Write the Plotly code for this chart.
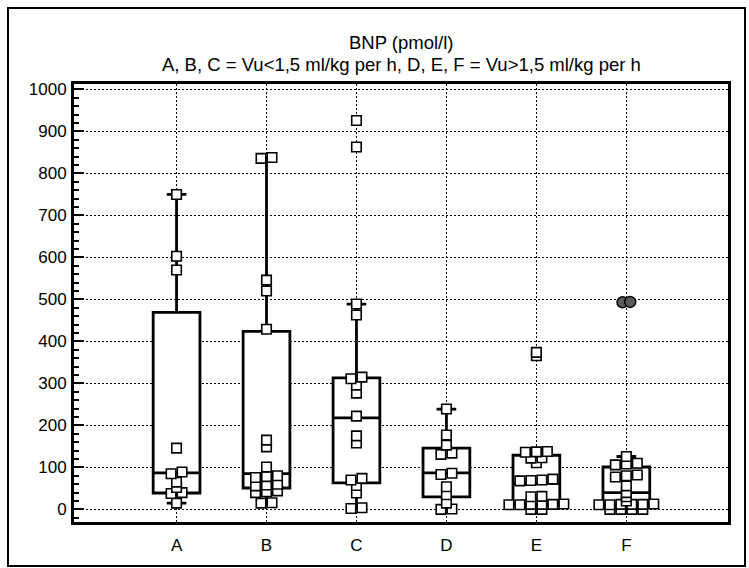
import plotly.graph_objects as go

# ---------------- data ----------------
categories = ["A", "B", "C", "D", "E", "F"]

# box statistics (pmol/l)
lower_whisker = [15, 15, 2, 0, 0, 0]
q1_values     = [39, 51, 63, 30, 12, 10]
medians       = [87, 85, 218, 87, 62, 40]
q3_values     = [469, 424, 313, 146, 129, 101]
upper_whisker = [750, 837, 489, 239, 138, 126]

# individual observations (squares)
values_A = [15, 38, 40, 52, 65, 85, 89, 146, 570, 603, 750]
values_B = [15, 16, 40, 42, 44, 56, 58, 60, 76, 78, 80, 101, 149, 165, 429, 520, 546, 836, 838]
values_C = [2, 4, 39, 57, 70, 74, 158, 175, 222, 277, 296, 311, 315, 463, 489, 863, 926]
values_D = [0, 1, 15, 35, 54, 83, 86, 131, 134, 153, 177, 239]
values_E = [0, 0, 11, 11, 12, 12, 12, 13, 30, 31, 68, 69, 70, 72, 111, 122, 123, 136, 137, 138, 366, 374]
values_F = [0, 0, 0, 0, 11, 11, 12, 12, 12, 13, 20, 30, 40, 56, 77, 80, 82, 106, 108, 110, 126]
group_values = [values_A, values_B, values_C, values_D, values_E, values_F]

# far-out values (filled circles)
far_out_F = [493, 494]

y_tick_values = list(range(0, 1001, 100))


def dodge(vals, gap=8, step=0.122):
    """Place near-equal values side by side (deterministic)."""
    vals = sorted(vals)
    rows = []
    for v in vals:
        if rows and v - rows[-1][0] < gap:
            rows[-1].append(v)
        else:
            rows.append([v])
    xs, ys = [], []
    for row in rows:
        k = len(row)
        for i, v in enumerate(row):
            xs.append((i - (k - 1) / 2) * step)
            ys.append(v)
    return xs, ys


fig = go.Figure()

fig.add_trace(go.Box(
    x=list(range(len(categories))),
    q1=q1_values, median=medians, q3=q3_values,
    lowerfence=lower_whisker, upperfence=upper_whisker,
    width=0.52, whiskerwidth=0.42,
    line=dict(color="black", width=2.8),
    fillcolor="white",
    boxpoints=False,
    showlegend=False,
    hoverinfo="skip",
))

for gi, vals in enumerate(group_values):
    offs, ys = dodge(vals)
    fig.add_trace(go.Scatter(
        x=[gi + o for o in offs], y=ys, mode="markers",
        marker=dict(symbol="square", size=9.5, color="white",
                    line=dict(color="black", width=1.6)),
        showlegend=False, hoverinfo="skip",
    ))

offs, ys = dodge(far_out_F, step=0.085)
fig.add_trace(go.Scatter(
    x=[5 + o for o in offs], y=ys, mode="markers",
    marker=dict(symbol="circle", size=11, color="#5a5a5a",
                line=dict(color="black", width=1.5)),
    showlegend=False, hoverinfo="skip",
))

font_family = "Liberation Sans, Arial, sans-serif"

fig.update_layout(
    width=749, height=568,
    margin=dict(l=74, r=21, t=84, b=46),
    paper_bgcolor="white", plot_bgcolor="white",
    font=dict(family=font_family, size=17, color="black"),
    xaxis=dict(
        type="linear", range=[-1.14, 6.13],
        tickvals=list(range(len(categories))), ticktext=categories,
        ticks="", showgrid=True, gridcolor="black", gridwidth=1.3,
        griddash="2px,2px", zeroline=False,
        showline=True, linecolor="black", linewidth=3, mirror=True,
        ticklabelstandoff=6,
        tickfont=dict(size=17),
    ),
    yaxis=dict(
        range=[-30, 1013],
        tickvals=y_tick_values,
        ticks="inside", ticklen=10, tickwidth=2, tickcolor="black",
        minor=dict(dtick=20, ticks="inside", ticklen=5, tickwidth=1.5, tickcolor="black", showgrid=False),
        showgrid=True, gridcolor="black", gridwidth=1.3, griddash="2px,2px",
        zeroline=False,
        showline=True, linecolor="black", linewidth=3, mirror=True,
        ticklabelstandoff=1,
        tickfont=dict(size=17),
    ),
    annotations=[
        dict(text="BNP (pmol/l)", xref="paper", yref="paper", x=0.5, y=(522 - 42) / 438,
             showarrow=False, xanchor="center", yanchor="middle", font=dict(size=18.5)),
        dict(text="A, B, C = Vu<1,5 ml/kg per h, D, E, F = Vu>1,5 ml/kg per h",
             xref="paper", yref="paper", x=0.5, y=(522 - 65) / 438,
             showarrow=False, xanchor="center", yanchor="middle", font=dict(size=18.5)),
    ],
    shapes=[
        dict(type="rect", xref="paper", yref="paper",
             x0=-0.1009, x1=1.026, y0=-0.1005, y1=1.1735,
             line=dict(color="black", width=2), fillcolor="rgba(0,0,0,0)", layer="below"),
    ],
)

fig.write_html("out.html")
